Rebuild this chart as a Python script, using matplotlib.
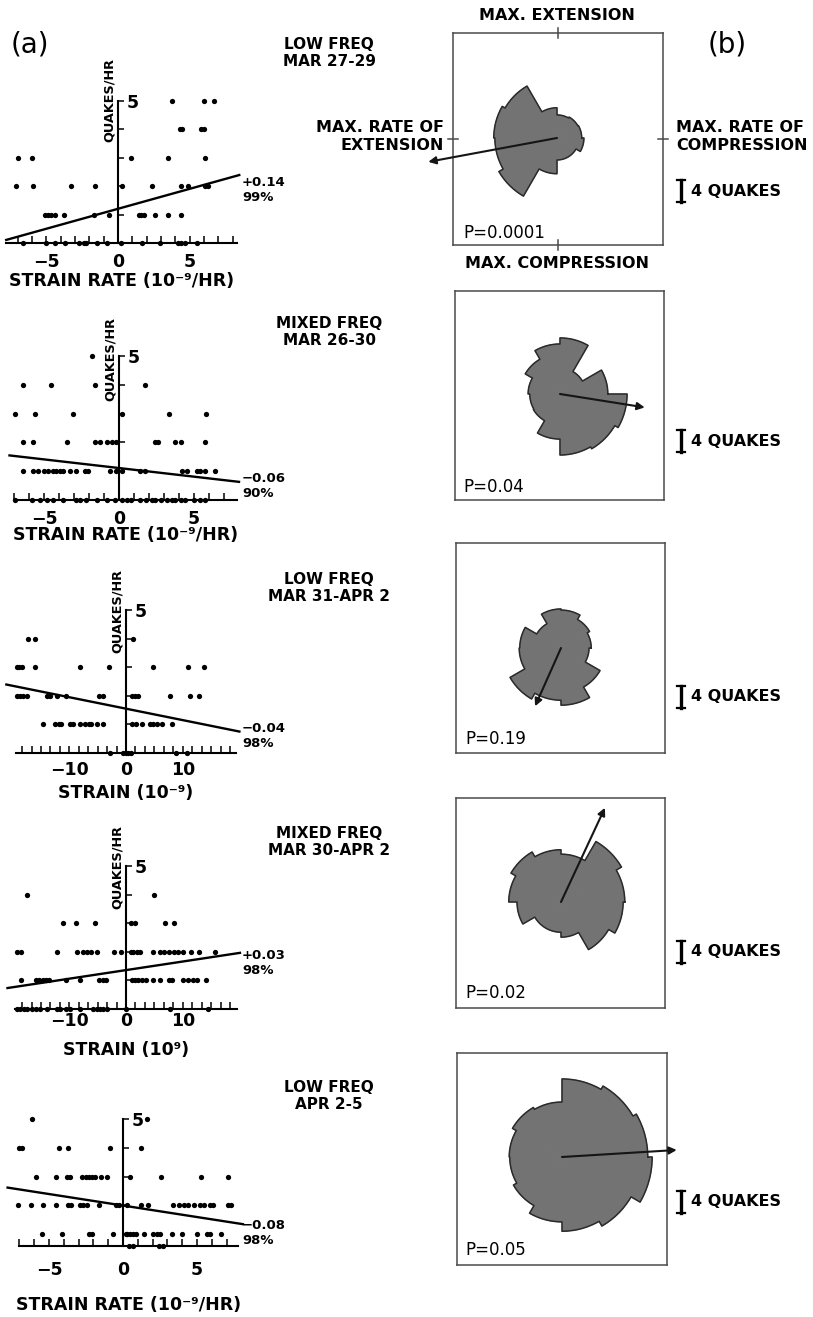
import numpy as np
import matplotlib.pyplot as plt

plt.rcParams['font.family'] = ['DejaVu Sans']

W, H = 813, 1317

# ---- (a) hourly quake counts against tidal strain / strain rate ----
# x positions of the dots, keyed by quakes per hour
p1_pts = {5: [3.8, 6.0, 6.7],
          4: [4.3, 4.5, 5.8, 6.0],
          3: [-7.0, -6.0, 0.9, 3.5, 6.1],
          2: [-7.1, -5.9, -3.3, -1.6, 0.3, 2.4, 4.4, 4.9, 6.1, 6.3],
          1: [-5.1, -4.9, -4.7, -4.4, -3.8, -1.7, -0.6, 1.5, 1.6, 1.8, 2.6, 3.5, 4.4],
          0: [-6.6, -5.0, -4.4, -3.7, -2.7, -2.4, -2.2, -1.5, -0.8, 0.2, 1.7, 2.9,
              4.2, 4.4, 4.7, 5.5]}
p2_pts = {5: [-1.8],
          4: [-6.4, -4.5, -1.6, 1.7],
          3: [-6.9, -5.6, -3.1, 0.2, 3.3, 5.8],
          2: [-6.4, -5.7, -3.5, -1.6, -1.3, -0.8, -0.5, -0.2, 2.4, 2.6, 3.7, 4.1, 5.7],
          1: [-6.4, -5.7, -5.4, -5.0, -4.7, -4.4, -4.2, -3.9, -3.7, -3.3, -2.9, -2.3,
              -2.1, -0.6, -0.2, 0.2, 1.4, 1.7, 4.2, 4.5, 5.2, 5.4, 5.7, 6.4],
          0: [-6.9, -5.8, -5.3, -4.8, -4.4, -3.7, -2.9, -2.6, -2.2, -1.5, -0.8, -0.3,
              0.2, 0.5, 0.8, 1.4, 1.8, 2.2, 2.4, 2.8, 3.2, 3.5, 3.7, 4.1, 4.4, 5.0,
              5.4, 5.7]}
p3_pts = {4: [-17.2, -16.1, 1.3],
          3: [-19.3, -18.8, -18.4, -16.1, -8.1, -3.0, 4.8, 11.0, 13.8],
          2: [-19.3, -18.7, -18.1, -17.5, -14.0, -13.4, -12.2, -10.5, -4.7, -4.1,
              1.0, 1.6, 2.2, 7.8, 11.3, 12.9],
          1: [-14.7, -12.5, -11.9, -11.4, -9.9, -9.3, -8.1, -7.2, -6.6, -6.1, -5.2,
              -4.0, 1.0, 1.8, 2.8, 4.2, 4.8, 5.4, 6.3, 8.2],
          0: [-2.8, -0.5, 0.0, 0.4, 0.9, 8.9, 10.7]}
p4_pts = {4: [-17.4, 4.9],
          3: [-11.1, -8.8, -5.4, 0.9, 1.5, 6.9, 8.5],
          2: [-19.2, -18.6, -12.2, -8.6, -7.5, -6.8, -6.1, -5.2, -2.2, -0.9, 0.8,
              1.3, 1.9, 2.4, 4.8, 6.0, 6.7, 7.5, 8.4, 9.1, 10.1, 11.4, 12.9, 15.7],
          1: [-18.5, -15.9, -15.3, -14.7, -14.1, -13.5, -10.5, -8.1, -4.7, -4.1,
              -3.5, 1.0, 1.6, 2.2, 2.8, 3.6, 4.7, 6.0, 7.5, 8.2, 10.1, 11.0, 11.8,
              12.6, 14.1],
          0: [-19.3, -18.7, -18.0, -17.4, -16.6, -15.9, -15.2, -14.0, -12.2, -11.6,
              -10.5, -9.9, -8.1, -5.8, -5.2, -4.6, -4.0, -3.4, 0.0, 7.8, 14.5]}
p5_pts = {5: [-6.15, 1.6],
          4: [-7.05, -6.8, -4.35, -3.7, -0.85, 1.2],
          3: [-5.9, -4.5, -3.8, -3.55, -2.8, -2.5, -2.3, -2.1, -1.9, -1.5, -1.1, 0.5,
              2.6, 5.3, 7.1],
          2: [-7.1, -6.2, -5.4, -4.5, -3.7, -3.5, -2.9, -2.7, -2.4, -1.6, -0.5, -0.3,
              0.3, 1.2, 1.7, 3.4, 3.8, 4.1, 4.4, 4.8, 5.2, 5.5, 5.9, 6.1, 7.1, 7.3],
          1: [-5.5, -4.1, -2.3, -2.1, -0.7, 0.2, 0.3, 0.5, 0.7, 0.9, 1.4, 2.0, 2.3,
              2.5, 3.3, 4.0, 5.0, 5.7, 5.9, 6.6],
          0: [0.4, 0.7, 2.4, 2.7]}

fit_slope = [0.14, -0.06, -0.04, 0.03, -0.08]
fit_icpt = [1.20, 1.11, 1.55, 1.36, 1.99]
fit_span = [(-7.8, 8.46), (-7.3, 8.0), (-21.1, 20.0), (-20.9, 20.1), (-7.8, 8.1)]
fit_text = ['+0.14\n99%', '\u22120.06\n90%', '\u22120.04\n98%', '+0.03\n98%',
            '\u22120.08\n98%']

titles = ['LOW FREQ\nMAR 27-29', 'MIXED FREQ\nMAR 26-30', 'LOW FREQ\nMAR 31-APR 2',
          'MIXED FREQ\nMAR 30-APR 2', 'LOW FREQ\nAPR 2-5']
xlabels = ['STRAIN RATE (10\u207b\u2079/HR)', 'STRAIN RATE (10\u207b\u2079/HR)',
           'STRAIN (10\u207b\u2079)', 'STRAIN (10\u2079)', 'STRAIN RATE (10\u207b\u2079/HR)']

# ---- (b) rose diagrams: quakes per 30 deg phase bin, from the +x direction ----
rose1 = [4.5, 4.4, 4.2, 5.5, 10.9, 11.5, 11.3, 12.2, 6.5, 4.0, 4.0, 4.9]
rose2 = [8.7, 4.7, 10.2, 9.1, 7.3, 5.8, 5.5, 5.6, 8.2, 11.1, 11.5, 12.2]
rose3 = [5.5, 6.0, 6.9, 7.1, 5.1, 7.5, 7.6, 10.7, 9.5, 10.4, 8.2, 5.1]
rose4 = [11.6, 12.7, 8.7, 9.5, 10.5, 9.5, 8.0, 5.5, 5.5, 6.4, 10.0, 11.3]
rose5 = [15.6, 14.9, 14.2, 10.0, 10.4, 9.6, 9.5, 10.2, 11.8, 13.5, 14.5, 16.4]
arrow_deg = [190.5, -9.0, 246.0, 65.0, 3.5]
arrow_len = [23.8, 15.6, 11.6, 18.9, 20.9]
p_values = ['P=0.0001', 'P=0.04', 'P=0.19', 'P=0.02', 'P=0.05']

scatter_sets = [p1_pts, p2_pts, p3_pts, p4_pts, p5_pts]
roses = [rose1, rose2, rose3, rose4, rose5]

fig = plt.figure(figsize=(W / 100, H / 100), dpi=100)


def px_rect(left, top, right, bottom):
    return [left / W, 1 - bottom / H, (right - left) / W, (bottom - top) / H]


def ftext(x, y, s, **kw):
    fig.text(x / W, 1 - y / H, s, **kw)


# panel geometry in pixels: x of zero, px per unit, x range, y of zero, px per unit,
# height of the x axis line, tick-label pad, x-label offset
layout = [
    dict(x0=118, sx=14.33, xlim=(-7.8, 8.3), y0=243, sy=28.5, base=0.0, pad=10, lab=38,
         ticks=np.arange(-7, 9), lab_at=[-5, 0, 5], qy=5.0),
    dict(x0=119, sx=15.0, xlim=(-7.0, 7.85), y0=500, sy=28.8, base=0.0, pad=10, lab=35,
         ticks=np.arange(-7, 8), lab_at=[-5, 0, 5], qy=4.9),
    dict(x0=126, sx=5.67, xlim=(-19.4, 19.4), y0=753, sy=28.6, base=0.0, pad=8, lab=40,
         ticks=np.arange(-11, 12) * 10 / 6, lab_at=[-10, 0, 10], qy=4.95),
    dict(x0=126, sx=5.67, xlim=(-19.6, 19.5), y0=1009, sy=28.6, base=0.0, pad=3, lab=41,
         ticks=np.arange(-11, 12) * 10 / 6, lab_at=[-10, 0, 10], qy=4.95),
    dict(x0=123, sx=14.8, xlim=(-7.05, 7.75), y0=1262.75, sy=28.75, base=0.58, pad=15,
         lab=59, ticks=np.arange(-7, 8), lab_at=[-5, 0, 5], qy=5.45),
]
title_y = [53, 332, 588, 842, 1096]
fit_y = [190, 486, 736, 963, 1233]
ytop = 5.3

for i, g in enumerate(layout):
    left = g['x0'] + g['xlim'][0] * g['sx']
    right = g['x0'] + g['xlim'][1] * g['sx']
    bottom = g['y0'] - g['base'] * g['sy']
    top = g['y0'] - ytop * g['sy']
    ax = fig.add_axes(px_rect(left, top, right, bottom))
    ax.set_facecolor('none')
    ax.set_xlim(*g['xlim'])
    ax.set_ylim(g['base'], ytop)

    for k in ('top', 'left'):
        ax.spines[k].set_visible(False)
    ax.spines['right'].set_position(('data', 0))
    ax.spines['right'].set_bounds(g['base'], 5)
    ax.spines['bottom'].set_bounds(*g['xlim'])
    for k in ('right', 'bottom'):
        ax.spines[k].set_linewidth(1.5)

    ax.yaxis.tick_right()
    ax.set_yticks([1, 2, 3, 4, 5], ['', '', '', '', '5'])
    ax.tick_params(axis='y', direction='out', length=4.5, width=1.1, pad=2,
                   labelsize=12.5)
    labels = []
    for t in g['ticks']:
        hit = [v for v in g['lab_at'] if abs(v - t) < 1e-6]
        labels.append(('%d' % hit[0]).replace('-', '\u2212') if hit else '')
    ax.set_xticks(g['ticks'], labels)
    ax.tick_params(axis='x', direction='in', length=5, width=1.1, pad=g['pad'] * 0.72,
                   labelsize=12.5)
    for lbl in ax.get_xticklabels() + ax.get_yticklabels():
        lbl.set_fontweight('bold')

    ax.set_xlabel(xlabels[i], fontsize=12.5, fontweight='bold', va='center')
    ax.xaxis.set_label_coords(0.5, -g['lab'] / (bottom - top))

    ax.annotate('QUAKES/HR', xy=(0, g['qy']), xytext=(-1.5, 0),
                textcoords='offset points', rotation=90, ha='right', va='center',
                fontsize=9.3, fontweight='bold')

    pts = scatter_sets[i]
    for q, xs in pts.items():
        yv = max(q, g['base'])
        ax.plot(xs, [yv] * len(xs), 'o', ms=3.8, color='black', mew=0,
                clip_on=False)

    xs = np.array(fit_span[i])
    ax.plot(xs, fit_icpt[i] + fit_slope[i] * xs, color='black', lw=1.7,
            clip_on=False)

    ftext(242, fit_y[i], fit_text[i], fontsize=9.5, fontweight='bold',
          va='center', ha='left', linespacing=1.25)
    ftext(329, title_y[i], titles[i], fontsize=11, fontweight='bold',
          ha='center', va='center', linespacing=1.15)

# ---- rose diagrams ----
quake_px = 5.5
frames = [(453, 33, 663, 245), (455, 291, 664, 500), (456, 543, 665, 753),
          (456, 798, 665, 1008), (457, 1053, 667, 1265)]
centers = [(557, 138), (560, 394), (561, 648), (561, 902), (562, 1157)]
scale_y = [191, 441, 697, 952, 1202]
pval_pos = [(463, 233), (463, 487), (465, 739), (465, 993), (465, 1250)]
frame_col = '#4a4a4a'

for i in range(5):
    fl, ft, fr, fb = frames[i]
    axf = fig.add_axes(px_rect(fl, ft, fr, fb))
    axf.set_xticks([])
    axf.set_yticks([])
    axf.set_facecolor('none')
    for s in axf.spines.values():
        s.set_color(frame_col)
        s.set_linewidth(1.1)
    if i == 0:
        d = 5 / (fr - fl)
        kw = dict(transform=axf.transAxes, color=frame_col, lw=1.1, clip_on=False)
        axf.plot([0.5, 0.5], [1 - d, 1 + d], **kw)
        axf.plot([0.5, 0.5], [-d, d], **kw)
        axf.plot([-d, d], [0.5, 0.5], **kw)
        axf.plot([1 - d, 1 + d], [0.5, 0.5], **kw)
    ftext(*pval_pos[i], p_values[i], fontsize=12, ha='left', va='center')

    cx, cy = centers[i]
    half = 160
    axp = fig.add_axes(px_rect(cx - half, cy - half, cx + half, cy + half),
                       projection='polar')
    axp.set_theta_zero_location('E')
    axp.set_ylim(0, half / quake_px)
    axp.axis('off')
    axp.patch.set_alpha(0)

    radii = np.array(roses[i])
    n = len(radii)
    width = 2 * np.pi / n
    mids = np.arange(n) * width + width / 2
    axp.bar(mids, radii, width=width, color='#737373', edgecolor='#737373',
            linewidth=0.6)
    th, rr = [], []
    for k in range(n):
        t = np.linspace(k * width, (k + 1) * width, 16)
        th.extend(t)
        rr.extend([radii[k]] * len(t))
    th.append(th[0])
    rr.append(rr[0])
    axp.plot(th, rr, color='#2a2a2a', lw=1.1)

    axp.annotate('', xy=(np.radians(arrow_deg[i]), arrow_len[i]), xytext=(0, 0),
                 arrowprops=dict(arrowstyle='-|>', color='#151515', lw=1.5,
                                 mutation_scale=11, shrinkA=0, shrinkB=0),
                 annotation_clip=False)

    # 4-quake scale bar
    sy = scale_y[i]
    bar_h = 4 * quake_px
    x_bar = 681
    fig.add_artist(plt.Line2D([x_bar / W] * 2,
                              [1 - (sy - bar_h / 2) / H, 1 - (sy + bar_h / 2) / H],
                              color='black', lw=2.4))
    for yy in (sy - bar_h / 2, sy + bar_h / 2):
        fig.add_artist(plt.Line2D([(x_bar - 4) / W, (x_bar + 4) / W],
                                  [1 - yy / H] * 2, color='black', lw=1.6))
    ftext(691, sy, '4 QUAKES', fontsize=11.5, fontweight='bold', ha='left',
          va='center')

ftext(30, 44, '(a)', fontsize=20, ha='center', va='center')
ftext(727, 44, '(b)', fontsize=20, ha='center', va='center')
ftext(557, 16, 'MAX. EXTENSION', fontsize=11.5, fontweight='bold', ha='center',
      va='center')
ftext(557, 264, 'MAX. COMPRESSION', fontsize=11.5, fontweight='bold', ha='center',
      va='center')
ftext(444, 137, 'MAX. RATE OF\nEXTENSION', fontsize=11.5, fontweight='bold',
      ha='right', va='center', multialignment='right', linespacing=1.25)
ftext(676, 137, 'MAX. RATE OF\nCOMPRESSION', fontsize=11.5, fontweight='bold',
      ha='left', va='center', linespacing=1.25)

fig.savefig('out.png', dpi=100)
